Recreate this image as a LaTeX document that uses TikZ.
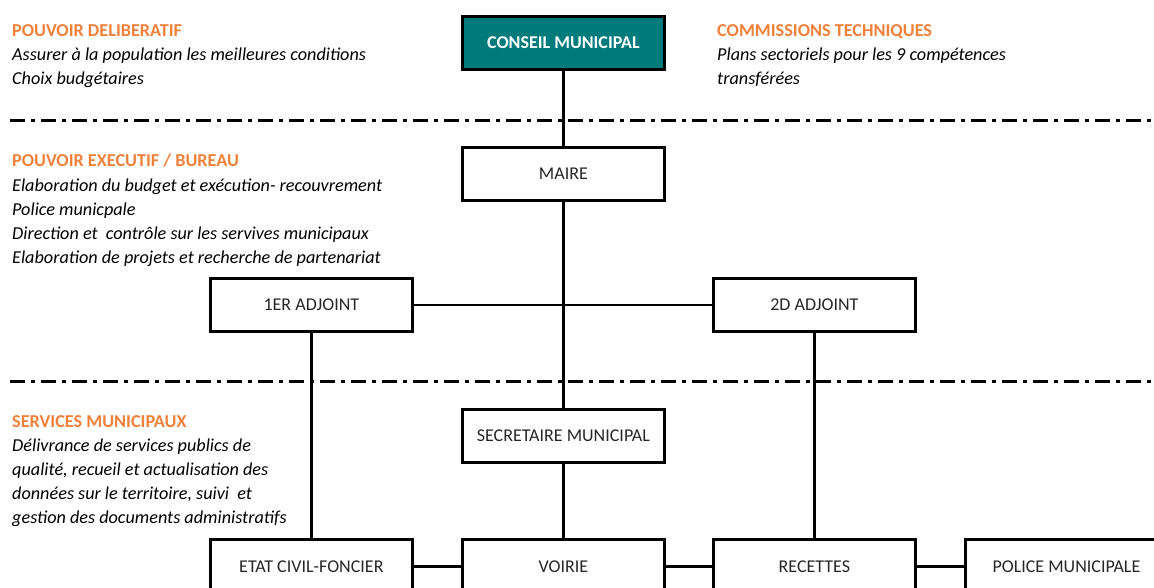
\documentclass[tikz,border=0pt]{standalone}
\usepackage{fontspec}
\setmainfont{Carlito}
\definecolor{tealbox}{HTML}{007B7B}
\definecolor{orangehd}{HTML}{F0813A}
\definecolor{boxtext}{HTML}{262626}
\begin{document}
\begin{tikzpicture}[x=1pt,y=-1pt,
  orgbox/.style={draw=black,line width=2.8pt,minimum width=202pt,minimum height=53pt,inner sep=0pt,font=\fontsize{18}{20}\selectfont,text=boxtext,anchor=north west},
  headbox/.style={orgbox,fill=tealbox,text=white,font=\fontsize{18}{20}\selectfont\bfseries},
  link/.style={line width=2.2pt},
  sep/.style={line width=3pt,dash pattern=on 15pt off 6pt on 4pt off 6pt},
  hd/.style={anchor=base west,inner sep=0pt,text=orangehd,font=\fontsize{18.2}{20}\selectfont\bfseries},
  bd/.style={anchor=base west,inner sep=0pt,text=black,font=\fontsize{18.2}{20}\selectfont\itshape}]
\useasboundingbox (0,0) rectangle (1154,587);
\clip (0,0) rectangle (1154,587);
% boxes
\node[headbox] (cm) at (461,15) {CONSEIL MUNICIPAL};
\node[orgbox] (maire) at (461,146) {MAIRE};
\node[orgbox] (a1) at (209,277) {1ER ADJOINT};
\node[orgbox] (a2) at (712,277) {2D ADJOINT};
\node[orgbox] (sec) at (461,408) {SECRETAIRE MUNICIPAL};
\node[orgbox,minimum height=54pt] (etat) at (209,538) {ETAT CIVIL-FONCIER};
\node[orgbox,minimum height=54pt] (voirie) at (461,538) {VOIRIE};
\node[orgbox,minimum height=54pt] (rec) at (712,538) {RECETTES};
\node[orgbox,minimum height=54pt] (pol) at (964,538) {POLICE MUNICIPALE};
% connectors
\draw[link] (cm.south) -- (maire.north);
\draw[link] (maire.south) -- (sec.north);
\draw[link] (sec.south) -- (voirie.north);
\draw[link] (a1.east) -- (a2.west);
\draw[link] (a1.south) -- (etat.north);
\draw[link] (a2.south) -- (rec.north);
\draw[link] (etat.east) -- (voirie.west);
\draw[link] (voirie.east) -- (rec.west);
\draw[link] (rec.east) -- (pol.west);
% separators
\coordinate (s1a) at (10,120); \coordinate (s1b) at (1154,120);
\coordinate (s2a) at (10,381); \coordinate (s2b) at (1154,381);
\draw[sep] (s1a) -- (s1b);
\draw[sep] (s2a) -- (s2b);
% texts
\node[hd] (t1) at (12,36) {POUVOIR DELIBERATIF};
\node[bd] (t2) at (12,60) {Assurer à la population les meilleures conditions};
\node[bd] (t3) at (12,84) {Choix budgétaires};
\node[hd] (t4) at (717,36) {COMMISSIONS TECHNIQUES};
\node[bd] (t5) at (717,60) {Plans sectoriels pour les 9 compétences};
\node[bd] (t6) at (717,84) {transférées};
\node[hd] (t7) at (12,166) {POUVOIR EXECUTIF / BUREAU};
\node[bd] (t8) at (12,191) {Elaboration du budget et exécution- recouvrement};
\node[bd] (t9) at (12,215) {Police municpale};
\node[bd] (t10) at (12,239) {Direction et \ contrôle sur les servives municipaux};
\node[bd] (t11) at (12,263) {Elaboration de projets et recherche de partenariat};
\node[hd] (t12) at (12,427) {SERVICES MUNICIPAUX};
\node[bd] (t13) at (12,451) {Délivrance de services publics de};
\node[bd] (t14) at (12,475) {qualité, recueil et actualisation des};
\node[bd] (t15) at (12,499) {données sur le territoire, suivi \ et};
\node[bd] (t16) at (12,523) {gestion des documents administratifs};
\end{tikzpicture}
\end{document}
